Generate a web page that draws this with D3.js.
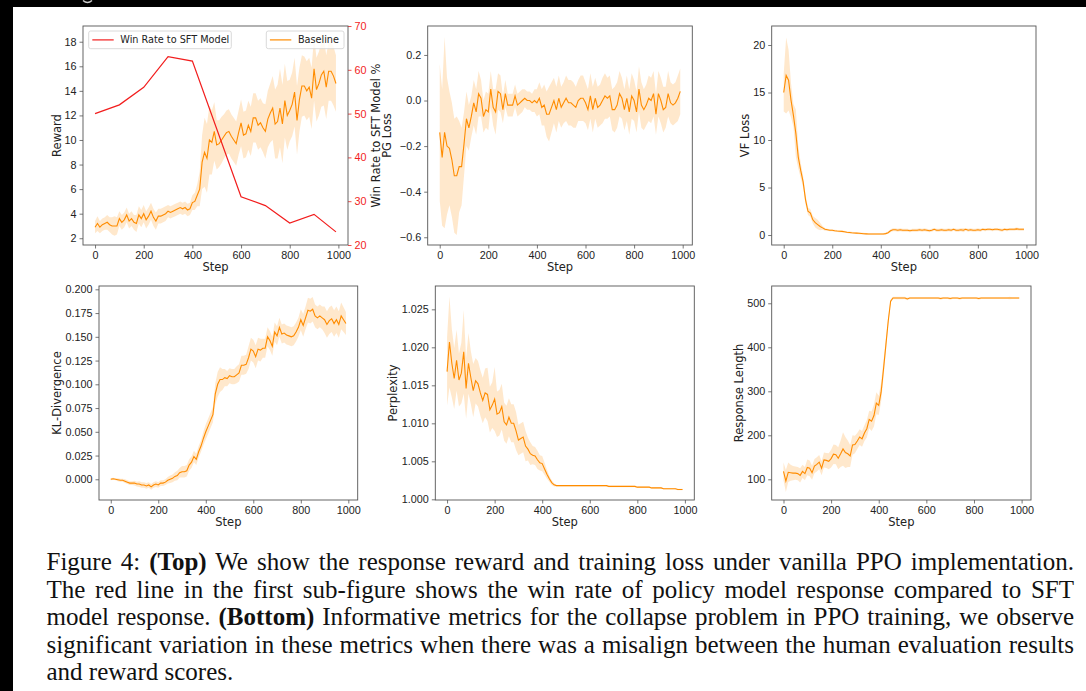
<!DOCTYPE html>
<html lang="en">
<head>
<meta charset="UTF-8">
<title>PPO training curves</title>
<script src="https://d3js.org/d3.v7.min.js"></script>
<style>
  body { margin: 0; background: #fff; }
  svg { display: block; font-family: "DejaVu Sans", sans-serif; }
  .tick text { font-size: 10.8px; fill: #222; }
  .tick line { stroke: #555; stroke-width: 0.8; }
  .axis-label { font-size: 11.5px; fill: #222; }
  .legend text { font-size: 9.7px; fill: #222; }
  .caption { font-family: "Liberation Serif", "Times New Roman", serif; font-size: 25px; fill: #111; }
</style>
</head>
<body>
<svg width="1086" height="691"></svg>
<script>
// x positions shared by every sub-plot (one point every 10 steps)
const steps = d3.range(0, 1000, 10);
const stepTicks = [0, 200, 400, 600, 800, 1000];

// Reward (Baseline) and its band half-width
const rewardMean = [2.9,3.2,2.9,3.1,3.2,3.3,3.1,3.0,3.0,3.0,
  3.6,3.3,3.5,3.9,3.4,3.6,3.3,3.2,3.9,3.6,
  4.0,3.5,3.8,4.2,3.7,3.4,3.8,3.8,3.9,4.0,
  4.2,4.1,4.2,4.3,4.4,4.5,4.4,4.5,4.3,4.4,
  4.9,5.0,5.5,6.0,8.2,9.0,8.5,10.0,9.8,10.7,
  9.6,9.7,10.0,10.3,10.6,10.7,10.3,10.0,9.7,10.6,
  11.4,10.4,10.5,11.2,10.7,11.8,11.8,11.2,11.4,11.0,
  10.7,11.7,12.2,12.6,11.3,11.5,12.6,11.3,13.2,12.0,
  12.4,12.9,13.9,11.6,13.3,14.4,14.4,14.0,14.3,13.4,
  15.8,14.1,14.6,15.3,15.6,14.3,15.6,15.6,15.2,14.6];
const rewardBand = [0.5,0.6,0.5,0.5,0.5,0.6,0.6,0.7,0.8,0.7,
  0.6,0.6,0.6,0.6,0.6,0.6,0.6,0.7,0.7,0.7,
  0.7,0.7,0.7,0.7,0.7,0.7,0.6,0.6,0.6,0.6,
  0.5,0.5,0.5,0.5,0.5,0.5,0.5,0.5,0.5,0.5,
  0.6,0.7,0.9,1.4,2.2,2.8,2.8,2.8,2.6,2.4,
  2.0,1.9,1.9,1.8,1.8,1.8,1.8,1.8,1.8,1.8,
  1.9,1.9,1.9,2.0,2.0,2.0,2.0,2.0,2.0,2.0,
  2.2,2.3,2.4,2.6,2.8,3.0,3.2,3.2,3.0,2.8,
  2.5,2.6,2.8,2.8,2.6,2.5,2.4,2.4,2.4,2.5,
  2.6,2.6,2.6,2.6,2.8,2.6,2.4,2.4,2.4,2.3];

// Win rate to SFT model (%), right axis of the first plot
const winSteps = [0, 100, 200, 300, 400, 600, 700, 800, 900, 990];
const winRate = [50, 52, 56, 63, 62, 31, 29, 25, 27, 23];

// PG loss
const pgMean = [-0.14,-0.25,-0.14,-0.20,-0.21,-0.26,-0.33,-0.33,-0.29,-0.29,
  -0.19,-0.08,-0.12,-0.07,-0.01,-0.05,0.03,0.01,-0.07,-0.04,
  -0.05,0.05,-0.03,-0.05,0.04,0.03,-0.04,0.03,-0.02,-0.02,
  -0.02,0.02,-0.02,-0.01,0.00,0.01,0.00,0.00,-0.01,0.00,
  -0.01,0.01,-0.03,-0.02,-0.06,-0.06,-0.03,0.00,-0.04,0.01,
  -0.03,-0.01,0.01,-0.01,-0.01,-0.02,-0.03,0.00,0.01,0.01,
  -0.01,-0.04,0.02,-0.04,0.01,-0.03,-0.02,0.00,0.02,0.01,
  0.02,-0.04,-0.04,-0.02,0.03,0.01,-0.04,0.01,-0.05,0.02,
  0.00,-0.05,0.05,-0.02,-0.04,-0.02,0.01,0.00,0.03,-0.06,
  0.03,0.00,-0.04,-0.03,0.03,-0.01,-0.02,-0.01,0.01,0.04];
const pgBand = [0.3,0.3,0.42,0.3,0.25,0.25,0.25,0.26,0.2,0.17,
  0.14,0.12,0.1,0.09,0.1,0.1,0.1,0.08,0.07,0.08,
  0.08,0.08,0.08,0.1,0.08,0.08,0.06,0.06,0.05,0.05,
  0.05,0.05,0.05,0.05,0.05,0.04,0.04,0.04,0.04,0.05,
  0.06,0.07,0.08,0.09,0.1,0.12,0.11,0.1,0.1,0.1,
  0.09,0.09,0.1,0.1,0.1,0.1,0.09,0.09,0.1,0.1,
  0.09,0.09,0.1,0.1,0.09,0.09,0.09,0.1,0.1,0.09,
  0.09,0.09,0.1,0.1,0.1,0.09,0.09,0.1,0.1,0.1,
  0.09,0.09,0.1,0.1,0.09,0.09,0.1,0.1,0.1,0.09,
  0.1,0.1,0.1,0.09,0.1,0.09,0.09,0.09,0.1,0.1];

// VF loss
const vfMean = [15.0,16.8,16.3,14.2,12.6,10.7,8.2,6.8,5.6,3.7,
  2.5,2.3,1.6,1.3,1.1,0.9,0.75,0.6,0.55,0.5,
  0.5,0.45,0.42,0.4,0.38,0.35,0.3,0.27,0.24,0.22,
  0.2,0.18,0.16,0.14,0.12,0.1,0.1,0.1,0.1,0.1,
  0.1,0.1,0.15,0.25,0.45,0.55,0.55,0.5,0.55,0.5,
  0.5,0.5,0.45,0.5,0.5,0.5,0.55,0.5,0.55,0.5,
  0.45,0.5,0.6,0.5,0.5,0.55,0.5,0.5,0.55,0.5,
  0.6,0.5,0.5,0.55,0.5,0.6,0.5,0.55,0.5,0.5,
  0.55,0.5,0.6,0.55,0.6,0.6,0.55,0.6,0.6,0.55,
  0.5,0.6,0.55,0.6,0.6,0.6,0.65,0.6,0.6,0.6];
const vfBand = [2.0,4.0,3.2,1.8,1.2,2.5,1.2,0.8,0.6,0.5,
  0.4,0.4,0.4,0.5,0.5,0.4,0.2,0.15,0.1,0.1,
  0.1,0.1,0.1,0.1,0.1,0.1,0.1,0.1,0.1,0.1,
  0.1,0.1,0.1,0.1,0.1,0.1,0.1,0.1,0.1,0.1,
  0.1,0.1,0.1,0.12,0.15,0.15,0.15,0.15,0.15,0.15,
  0.15,0.15,0.15,0.15,0.15,0.15,0.15,0.15,0.15,0.15,
  0.15,0.15,0.15,0.15,0.15,0.15,0.15,0.15,0.15,0.15,
  0.15,0.15,0.15,0.15,0.2,0.15,0.15,0.15,0.15,0.15,
  0.15,0.15,0.15,0.15,0.15,0.15,0.15,0.15,0.15,0.15,
  0.15,0.15,0.15,0.15,0.15,0.15,0.15,0.15,0.15,0.15];

// KL divergence
const klMean = [0.0,0.0005,0.0,-0.0005,-0.001,-0.001,-0.002,-0.003,-0.004,-0.004,
  -0.004,-0.005,-0.005,-0.006,-0.006,-0.007,-0.006,-0.008,-0.006,-0.005,
  -0.006,-0.004,-0.004,-0.003,-0.001,0.0,0.001,0.003,0.004,0.007,
  0.008,0.008,0.009,0.015,0.018,0.024,0.021,0.029,0.035,0.043,
  0.05,0.056,0.062,0.068,0.09,0.1,0.105,0.105,0.107,0.106,
  0.109,0.108,0.108,0.11,0.112,0.12,0.12,0.121,0.128,0.137,
  0.135,0.129,0.137,0.136,0.138,0.138,0.15,0.146,0.14,0.155,
  0.151,0.16,0.153,0.154,0.152,0.151,0.15,0.151,0.155,0.16,
  0.168,0.162,0.17,0.178,0.177,0.179,0.172,0.17,0.172,0.17,
  0.168,0.163,0.167,0.169,0.164,0.168,0.163,0.172,0.168,0.164];
const klBand = [0.001,0.001,0.001,0.0015,0.0015,0.0015,0.002,0.002,0.002,0.002,
  0.0025,0.0025,0.003,0.003,0.003,0.003,0.003,0.003,0.003,0.003,
  0.003,0.003,0.003,0.003,0.0035,0.004,0.004,0.0045,0.005,0.005,
  0.006,0.006,0.006,0.006,0.006,0.006,0.006,0.006,0.006,0.007,
  0.008,0.008,0.008,0.008,0.011,0.013,0.013,0.011,0.009,0.008,
  0.008,0.008,0.008,0.009,0.009,0.01,0.01,0.01,0.012,0.012,
  0.012,0.012,0.012,0.012,0.01,0.01,0.01,0.01,0.01,0.01,
  0.01,0.01,0.01,0.01,0.01,0.01,0.01,0.01,0.01,0.01,
  0.011,0.012,0.012,0.013,0.013,0.013,0.012,0.012,0.012,0.012,
  0.014,0.014,0.014,0.014,0.014,0.014,0.014,0.014,0.013,0.012];

// Perplexity
const pplMean = [1.0168,1.0207,1.0179,1.0159,1.0183,1.0157,1.0166,1.0194,1.0146,1.0179,
  1.0160,1.0143,1.0156,1.0152,1.0140,1.0130,1.0140,1.0138,1.0118,1.0124,
  1.0132,1.0112,1.0114,1.0122,1.0102,1.0098,1.0108,1.0100,1.0100,1.0090,
  1.0078,1.0080,1.0082,1.0070,1.0066,1.0060,1.0058,1.0057,1.0052,1.0048,
  1.0047,1.0040,1.0033,1.0027,1.0022,1.0019,1.0018,1.0018,1.0018,1.0018,
  1.0018,1.0018,1.0018,1.0018,1.0018,1.0018,1.0018,1.0018,1.0018,1.0018,
  1.0018,1.0018,1.0018,1.0018,1.0018,1.0018,1.0018,1.0018,1.0017,1.0017,
  1.0017,1.0017,1.0017,1.0017,1.0017,1.0017,1.0017,1.0017,1.0017,1.0017,
  1.0016,1.0016,1.0016,1.0016,1.0016,1.0016,1.0015,1.0015,1.0015,1.0015,
  1.0015,1.0014,1.0014,1.0014,1.0014,1.0014,1.0014,1.0013,1.0013,1.0013];
const pplBand = [0.0045,0.006,0.0045,0.004,0.004,0.0035,0.004,0.0055,0.004,0.004,
  0.0035,0.0035,0.003,0.003,0.003,0.003,0.0032,0.0035,0.003,0.003,
  0.0042,0.003,0.003,0.003,0.0025,0.0025,0.0025,0.0025,0.0025,0.0025,
  0.002,0.002,0.002,0.002,0.0015,0.0015,0.0012,0.0012,0.0012,0.001,
  0.001,0.0008,0.0006,0.0004,0.0003,0.0002,0.0001,0.0001,0.0001,0.0001,
  0.0001,0.0001,0.0001,0.0001,0.0001,0.0001,0.0001,0.0001,0.0001,0.0001,
  0.0001,0.0001,0.0001,0.0001,0.0001,0.0001,0.0001,0.0001,0.0001,0.0001,
  0.0001,0.0001,0.0001,0.0001,0.0001,0.0001,0.0001,0.0001,0.0001,0.0001,
  0.0001,0.0001,0.0001,0.0001,0.0001,0.0001,0.0001,0.0001,0.0001,0.0001,
  0.0001,0.0001,0.0001,0.0001,0.0001,0.0001,0.0001,0.0001,0.0001,0.0001];

// Response length
const lenMean = [118,96,116,115,114,114,113,109,118,113,
  127,125,115,130,134,139,125,144,143,141,
  147,157,156,148,158,169,161,158,153,178,
  179,187,196,192,205,215,236,232,245,273,
  268,298,350,405,460,505,512,512,512,512,
  512,512,510,512,512,512,512,512,512,512,
  512,512,512,512,512,512,511,512,512,512,
  511,512,512,512,511,512,512,512,512,512,
  512,512,511,512,512,512,512,512,512,512,
  512,512,512,512,512,512,512,512,512,512];
const lenBand = [20,25,22,18,16,15,15,16,15,15,
  18,18,16,16,16,16,16,17,17,18,
  20,22,22,25,30,38,35,30,25,22,
  20,18,18,18,18,20,20,22,25,25,
  22,22,20,15,8,4,3,3,3,3,
  3,3,3,2,2,2,2,2,2,2,
  2,2,2,2,2,2,3,2,2,2,
  3,2,2,2,3,2,2,2,2,2,
  2,2,3,2,2,2,2,2,2,2,
  2,2,2,2,2,3,2,2,2,2];

const captionLines = [
  [["Figure 4: ", false], ["(Top)", true], [" We show the response reward and training loss under vanilla PPO implementation.", false]],
  [["The red line in the first sub-figure shows the win rate of policy model response compared to SFT", false]],
  [["model response. ", false], ["(Bottom)", true], [" Informative metrics for the collapse problem in PPO training, we observe", false]],
  [["significant variation in these metrics when there was a misalign between the human evaluation results", false]],
  [["and reward scores.", false]]
];

const svg = d3.select("svg");
const xDomain = [-49.5, 1039.5];
const orange = "#ff8c00";
const red = "#f21d1d";

// black edges of the screenshot, with the tail of a letter from the line above
svg.append("rect").attr("x", 0).attr("y", 0).attr("width", 1086).attr("height", 7).attr("fill", "#000");
svg.append("rect").attr("x", 0).attr("y", 0).attr("width", 13).attr("height", 691).attr("fill", "#000");
svg.append("path").attr("d", "M83,0.5 Q87.5,4.5 92,0.5").attr("fill", "none").attr("stroke", "#ccc").attr("stroke-width", 1.4);

const panels = [
  { id: "reward", left: 83, right: 348, top: 26, bottom: 245, yDomain: [1.45, 19.28],
    ticks: [2,4,6,8,10,12,14,16,18], fmt: d3.format("d"), label: "Reward", labelOff: 22,
    mean: rewardMean, band: rewardBand },
  { id: "pg", left: 427.7, right: 692.3, top: 26, bottom: 245, yDomain: [-0.634, 0.327],
    ticks: [-0.6,-0.4,-0.2,0.0,0.2], fmt: d3.format(".1f"), label: "PG Loss", labelOff: 37,
    mean: pgMean, band: pgBand },
  { id: "vf", left: 771.7, right: 1036, top: 26, bottom: 245, yDomain: [-1.05, 22.0],
    ticks: [0,5,10,15,20], fmt: d3.format("d"), label: "VF Loss", labelOff: 23,
    mean: vfMean, band: vfBand },
  { id: "kl", left: 99, right: 357.7, top: 286, bottom: 500, yDomain: [-0.0218, 0.2035],
    ticks: [0,0.025,0.05,0.075,0.1,0.125,0.15,0.175,0.2], fmt: d3.format(".3f"), label: "KL-Divergence", labelOff: 38,
    mean: klMean, band: klBand },
  { id: "ppl", left: 435.3, right: 694.3, top: 286, bottom: 500, yDomain: [0.99991, 1.02807],
    ticks: [1.0,1.005,1.01,1.015,1.02,1.025], fmt: d3.format(".3f"), label: "Perplexity", labelOff: 38.6,
    mean: pplMean, band: pplBand },
  { id: "len", left: 771.7, right: 1031, top: 286, bottom: 500, yDomain: [53, 539.3],
    ticks: [100,200,300,400,500], fmt: d3.format("d"), label: "Response Length", labelOff: 28.4,
    mean: lenMean, band: lenBand }
];

function styleAxis(g) {
  g.select(".domain").remove();
}

panels.forEach(p => {
  const x = d3.scaleLinear().domain(xDomain).range([p.left, p.right]);
  const y = d3.scaleLinear().domain(p.yDomain).range([p.bottom, p.top]);
  const g = svg.append("g").attr("id", p.id);

  g.append("clipPath").attr("id", "clip-" + p.id)
    .append("rect")
    .attr("x", p.left).attr("y", p.top)
    .attr("width", p.right - p.left).attr("height", p.bottom - p.top);

  const plot = g.append("g").attr("clip-path", `url(#clip-${p.id})`);
  const pts = steps.map((s, i) => ({ s, m: p.mean[i], b: p.band[i] }));

  plot.append("path")
    .datum(pts)
    .attr("fill", orange)
    .attr("fill-opacity", 0.2)
    .attr("d", d3.area().x(d => x(d.s)).y0(d => y(d.m - d.b)).y1(d => y(d.m + d.b)));

  plot.append("path")
    .datum(pts)
    .attr("fill", "none")
    .attr("stroke", orange)
    .attr("stroke-width", 1.1)
    .attr("d", d3.line().x(d => x(d.s)).y(d => y(d.m)));

  g.append("g")
    .attr("transform", `translate(0,${p.bottom})`)
    .call(d3.axisBottom(x).tickValues(stepTicks).tickFormat(d3.format("d")).tickSize(3.5).tickPadding(3).tickSizeOuter(0))
    .call(styleAxis);

  g.append("g")
    .attr("transform", `translate(${p.left},0)`)
    .call(d3.axisLeft(y).tickValues(p.ticks).tickFormat(p.fmt).tickSize(3.5).tickPadding(3).tickSizeOuter(0))
    .call(styleAxis);

  g.append("text")
    .attr("class", "axis-label")
    .attr("text-anchor", "middle")
    .attr("x", (p.left + p.right) / 2)
    .attr("y", p.bottom + 26)
    .text("Step");

  g.append("text")
    .attr("class", "axis-label")
    .attr("text-anchor", "middle")
    .attr("transform", `translate(${p.left - p.labelOff},${(p.top + p.bottom) / 2}) rotate(-90)`)
    .text(p.label);

  p.x = x;
  p.g = g;
});

// win rate on the right axis of the first plot
const p1 = panels[0];
const yWin = d3.scaleLinear().domain([20, 70]).range([p1.bottom, p1.top]);
p1.g.append("path")
  .datum(winSteps.map((s, i) => [s, winRate[i]]))
  .attr("fill", "none")
  .attr("stroke", red)
  .attr("stroke-width", 1.2)
  .attr("d", d3.line().x(d => p1.x(d[0])).y(d => yWin(d[1])));

const rightAxis = p1.g.append("g")
  .attr("transform", `translate(${p1.right},0)`)
  .call(d3.axisRight(yWin).tickValues([20,30,40,50,60,70]).tickSize(3.5).tickPadding(3).tickSizeOuter(0))
  .call(styleAxis);
rightAxis.selectAll(".tick line").style("stroke", red);
rightAxis.selectAll(".tick text").style("fill", red);

p1.g.append("text")
  .attr("class", "axis-label")
  .attr("text-anchor", "middle")
  .attr("transform", `translate(${p1.right + 32},${(p1.top + p1.bottom) / 2}) rotate(-90)`)
  .text("Win Rate to SFT Model %");

// frames on top
panels.forEach(p => {
  p.g.append("rect")
    .attr("x", p.left).attr("y", p.top)
    .attr("width", p.right - p.left).attr("height", p.bottom - p.top)
    .attr("fill", "none").attr("stroke", "#555").attr("stroke-width", 0.9);
});

// legends of the first plot
const legend = p1.g.append("g").attr("class", "legend");
function legendBox(x0, x1, color, label) {
  legend.append("rect")
    .attr("x", x0).attr("y", p1.top + 5).attr("width", x1 - x0).attr("height", 17.7)
    .attr("rx", 2).attr("fill", "#fff").attr("fill-opacity", 0.8)
    .attr("stroke", "#d0d0d0").attr("stroke-width", 0.8);
  legend.append("line")
    .attr("x1", x0 + 3.6).attr("x2", x0 + 25).attr("y1", p1.top + 13.9).attr("y2", p1.top + 13.9)
    .attr("stroke", color).attr("stroke-width", 1.2);
  legend.append("text")
    .attr("x", x0 + 31.6).attr("y", p1.top + 17.3)
    .text(label);
}
legendBox(p1.left + 5.7, p1.left + 148.3, red, "Win Rate to SFT Model");
legendBox(p1.left + 183.3, p1.left + 261, orange, "Baseline");

// caption, justified to the column width
const capLeft = 46.5, capRight = 1074, capTop = 570, capStep = 27.5;
captionLines.forEach((parts, i) => {
  const t = svg.append("text")
    .attr("class", "caption")
    .attr("x", capLeft)
    .attr("y", capTop + i * capStep)
    .attr("xml:space", "preserve");
  parts.forEach(([str, bold]) => {
    t.append("tspan").attr("font-weight", bold ? "bold" : null).text(str);
  });
  if (i < captionLines.length - 1) {
    const natural = t.node().getComputedTextLength();
    const text = parts.map(d => d[0]).join("");
    const gaps = (text.match(/ /g) || []).length;
    t.attr("word-spacing", (capRight - capLeft - natural) / gaps);
  }
});
</script>
</body>
</html>
